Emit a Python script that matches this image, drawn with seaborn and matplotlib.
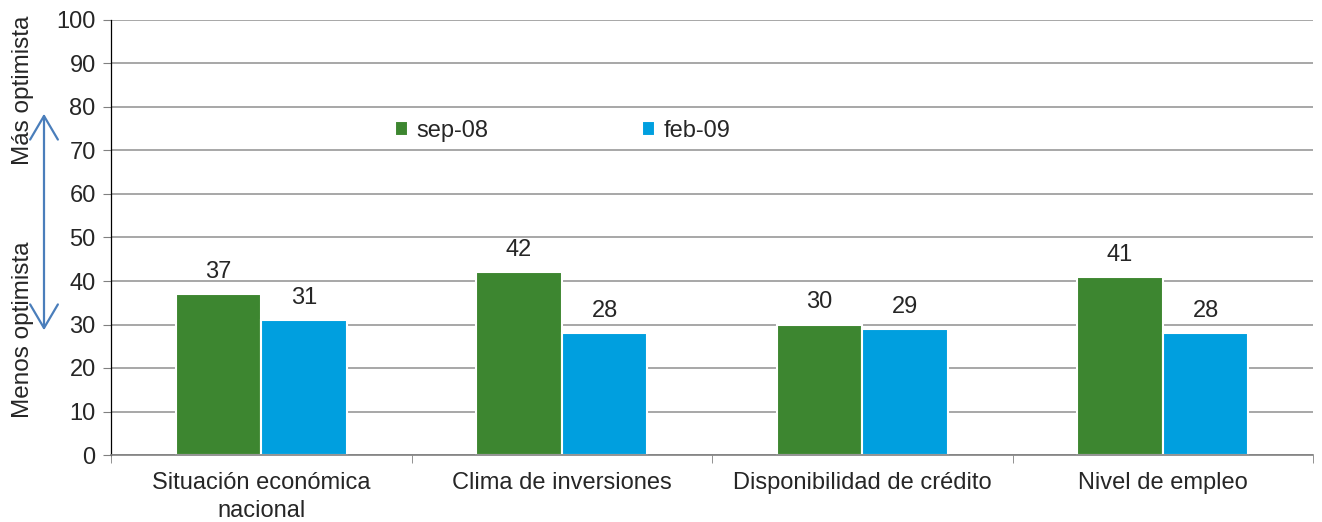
import numpy as np
import pandas as pd
import matplotlib
matplotlib.use('Agg')
import matplotlib.pyplot as plt
import seaborn as sns

categories = ['Situación económica\nnacional', 'Clima de inversiones',
              'Disponibilidad de crédito', 'Nivel de empleo']
series = ['sep-08', 'feb-09']
sep08 = [37, 42, 30, 41]
feb09 = [31, 28, 29, 28]
colors = ['#3d8630', '#009fdf']

df = pd.DataFrame({
    'categoria': categories * 2,
    'valor': sep08 + feb09,
    'serie': [series[0]] * 4 + [series[1]] * 4,
})

sns.set_style('white')
plt.rcParams['font.family'] = ['Liberation Sans', 'DejaVu Sans']
fs = 17

fig = plt.figure(figsize=(13.22, 5.22), dpi=100)
ax = fig.add_axes([111 / 1322, 1 - 455 / 522, (1313 - 111) / 1322, (455 - 20) / 522])

sns.barplot(data=df, x='categoria', y='valor', hue='serie', palette=colors,
            width=0.57, gap=0.0, edgecolor='white', linewidth=1.5,
            saturation=1, ax=ax, legend=True)

ax.set_ylim(0, 100)
ax.set_xlim(-0.5, 3.5)
ax.set_yticks(range(0, 101, 10))
ax.yaxis.grid(True, color='#a0a0a0', linewidth=1.3)
ax.set_axisbelow(True)
ax.set_xlabel('')
ax.set_ylabel('')
for s in ['top', 'right']:
    ax.spines[s].set_visible(False)
ax.spines['left'].set_color('#000000')
ax.spines['left'].set_linewidth(0.9)
ax.spines['bottom'].set_color('#808080')
ax.spines['bottom'].set_linewidth(1.2)
ax.tick_params(axis='y', left=True, length=6, color='#808080', labelsize=fs, pad=5)
ax.tick_params(axis='x', bottom=False, labelsize=fs, pad=9)
# category separator ticks
ax.set_xticks([-0.5, 0.5, 1.5, 2.5, 3.5], minor=True)
ax.tick_params(axis='x', which='minor', bottom=True, length=6, color='#808080')
for lbl in ax.get_xticklabels():
    lbl.set_linespacing(1.35)

for cont in ax.containers:
    ax.bar_label(cont, fmt='%d', padding=8, fontsize=fs)

leg = ax.legend(loc='center left', bbox_to_anchor=(0.219, 0.745), ncol=2,
                frameon=False, fontsize=fs, handlelength=0.55, handleheight=0.55,
                handletextpad=0.35, columnspacing=6.5)

# arrow & side labels
fig.patches.append(matplotlib.patches.FancyArrowPatch(
    (44 / 1322, 1 - 333 / 522), (44 / 1322, 1 - 111 / 522),
    transform=fig.transFigure, arrowstyle='<->,head_length=17,head_width=10',
    color='#4a7ebb', linewidth=1.6, mutation_scale=1))
fig.text(23 / 1322, 1 - 90 / 522, 'Más optimista', rotation=90, fontsize=17.5,
         ha='center', va='center')
fig.text(23 / 1322, 1 - 330 / 522, 'Menos optimista', rotation=90, fontsize=17.5,
         ha='center', va='center')

fig.savefig('out.png', dpi=100)
